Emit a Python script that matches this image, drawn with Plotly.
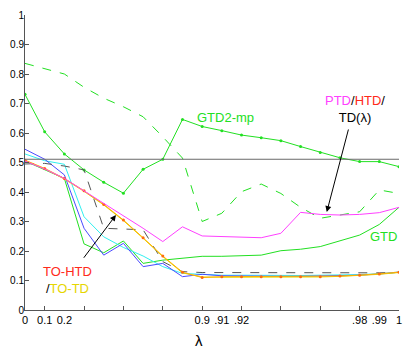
import plotly.graph_objects as go

# lambda sampled on an uneven grid, plotted by index
lam_idx = list(range(20))
lam_label_pos = [0, 1, 2, 9, 10, 11, 17, 18, 19]
lam_label_txt = ["0", "0.1", "0.2", "0.9", ".91", ".92", ".98", ".99", "1"]
lam_tick_pos = [1, 3, 5, 7, 9, 11, 13, 15, 17, 19]

baseline = 0.511

gtd2_mp = [0.731, 0.604, 0.529, 0.475, 0.433, 0.396, 0.477, 0.511, 0.646, 0.622,
           0.608, 0.593, 0.584, 0.574, 0.554, 0.534, 0.516, 0.503, 0.503, 0.486]
gtd2_dash = [0.836, 0.819, 0.800, 0.755, 0.718, 0.689, 0.655, 0.587, 0.515, 0.300,
             0.328, 0.401, 0.427, 0.395, 0.348, 0.311, 0.322, 0.333, 0.407, 0.395]
gtd = [0.505, 0.476, 0.446, 0.224, 0.194, 0.234, 0.158, 0.169, 0.176, 0.182,
       0.182, 0.183, 0.186, 0.201, 0.206, 0.215, 0.234, 0.254, 0.290, 0.348]
ptd = [0.505, 0.478, 0.446, 0.404, 0.361, 0.319, 0.277, 0.232, 0.282, 0.251,
       0.249, 0.245, 0.245, 0.260, 0.331, 0.324, 0.322, 0.324, 0.330, 0.348]
to_htd = [0.508, 0.480, 0.446, 0.404, 0.358, 0.305, 0.245, 0.183, 0.128, 0.110,
          0.113, 0.113, 0.113, 0.113, 0.113, 0.113, 0.115, 0.118, 0.122, 0.128]
to_td = [0.506, 0.478, 0.444, 0.402, 0.356, 0.303, 0.243, 0.181, 0.126, 0.112,
         0.111, 0.111, 0.112, 0.112, 0.111, 0.112, 0.114, 0.117, 0.121, 0.127]
blue_s = [0.545, 0.511, 0.458, 0.277, 0.186, 0.226, 0.147, 0.158, 0.113, 0.121,
          0.116, 0.115, 0.113, 0.114, 0.114, 0.115, 0.117, 0.118, 0.122, 0.128]
cyan_s = [0.529, 0.506, 0.494, 0.316, 0.248, 0.212, 0.183, 0.147, 0.124, 0.120,
          0.118, 0.118, 0.117, 0.117, 0.117, 0.118, 0.118, 0.120, 0.123, 0.128]
gray_s = [0.495, 0.497, 0.488, 0.475, 0.277, 0.275, 0.272, 0.164, 0.130, 0.127,
          0.127, 0.127, 0.127, 0.126, 0.126, 0.125, 0.125, 0.125, 0.126, 0.128]

GREEN = "#22e022"
MAGENTA = "#ff40ff"
RED = "#ff2a1a"
ORANGE = "#ffb000"
YELLOW = "#e6d600"
FONT = "Liberation Sans, Arial, sans-serif"

fig = go.Figure()

# reference level (also carries the tick-mark axis)
fig.add_trace(go.Scatter(x=[lam_idx[0], lam_idx[-1]], y=[baseline, baseline], mode="lines",
                         line=dict(color="#6a6a6a", width=1), xaxis="x2"))

fig.add_trace(go.Scatter(x=lam_idx, y=gtd2_dash, mode="lines",
                         line=dict(color=GREEN, width=1, dash="dash")))
fig.add_trace(go.Scatter(x=lam_idx, y=gtd2_mp, mode="lines+markers",
                         line=dict(color=GREEN, width=1), marker=dict(size=3, color=GREEN)))
fig.add_trace(go.Scatter(x=lam_idx, y=gtd, mode="lines", line=dict(color=GREEN, width=1)))
fig.add_trace(go.Scatter(x=lam_idx, y=cyan_s, mode="lines", line=dict(color="#30f0f0", width=1)))
fig.add_trace(go.Scatter(x=lam_idx, y=blue_s, mode="lines", line=dict(color="#4a4aff", width=1)))
fig.add_trace(go.Scatter(x=lam_idx, y=gray_s, mode="lines",
                         line=dict(color="#555555", width=1, dash="dash")))
fig.add_trace(go.Scatter(x=lam_idx, y=to_td, mode="lines", line=dict(color=YELLOW, width=1)))
fig.add_trace(go.Scatter(x=lam_idx, y=to_htd, mode="lines+markers",
                         line=dict(color=ORANGE, width=1), marker=dict(size=3, color="#ff6a10")))
fig.add_trace(go.Scatter(x=lam_idx, y=ptd, mode="lines", line=dict(color=MAGENTA, width=1)))

# labels and arrows
fig.add_annotation(x=10.2, y=0.654, text="GTD2-mp", showarrow=False,
                   font=dict(color=GREEN, size=13))
fig.add_annotation(x=18.2, y=0.248, text="GTD", showarrow=False,
                   font=dict(color=GREEN, size=13))
fig.add_annotation(x=16.75, y=0.683, showarrow=False, font=dict(color="black", size=13),
                   text=f"<span style='color:{MAGENTA}'>PTD</span>/"
                        f"<span style='color:{RED}'>HTD</span>/<br>TD(λ)")
fig.add_annotation(x=2.15, y=0.102, showarrow=False, font=dict(color="black", size=13),
                   text=f"<span style='color:{RED}'>TO-HTD</span><br>"
                        f"/<span style='color:{YELLOW}'>TO-TD</span>")
fig.add_annotation(x=15.33, y=0.332, ax=16.45, ay=0.617, axref="x", ayref="y", text="",
                   showarrow=True, arrowhead=2, arrowsize=1.2, arrowwidth=1, arrowcolor="black")
fig.add_annotation(x=4.62, y=0.322, ax=2.93, ay=0.172, axref="x", ayref="y", text="",
                   showarrow=True, arrowhead=2, arrowsize=1.2, arrowwidth=1, arrowcolor="black")
fig.add_annotation(x=8.83, y=-0.102, xref="x", yref="paper", yanchor="middle", text="λ",
                   showarrow=False, font=dict(size=15, color="black"))

# page body keeps its default 8px margin, so the figure is sized to fit inside it
fig.update_layout(
    width=407, height=356,
    margin=dict(l=17, r=16, t=7, b=54),
    paper_bgcolor="white", plot_bgcolor="white",
    showlegend=False,
    font=dict(family=FONT, size=11, color="black"),
    xaxis=dict(range=[0, 19], tickvals=lam_label_pos, ticktext=lam_label_txt, ticks="",
               showgrid=False, zeroline=False, showline=True, linecolor="#555555",
               linewidth=1, tickfont=dict(size=11), automargin=False),
    xaxis2=dict(range=[0, 19], overlaying="x", anchor="y", side="bottom",
                tickvals=lam_tick_pos, ticks="inside", ticklen=4, tickcolor="#555555",
                showticklabels=False, showgrid=False, zeroline=False, showline=False,
                automargin=False),
    yaxis=dict(range=[0, 1], dtick=0.1, tick0=0, ticks="inside", ticklen=4,
               tickcolor="#555555", showgrid=False, zeroline=False, showline=True,
               linecolor="#555555", linewidth=1, tickfont=dict(size=10),
               ticklabelstandoff=-2, automargin=False),
)

fig.write_html("out.html")
